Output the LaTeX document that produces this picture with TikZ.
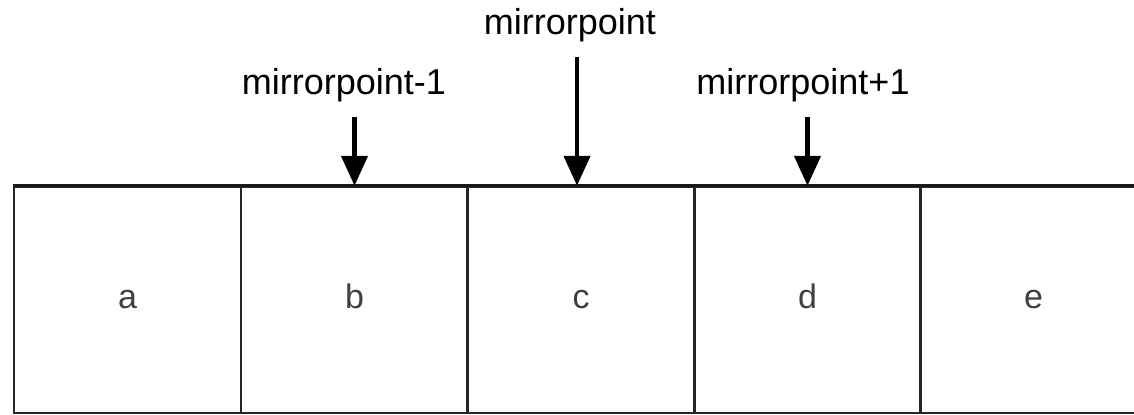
\documentclass[tikz,border=0pt]{standalone}
\usepackage{fontspec}
\setmainfont{Liberation Sans}
\usetikzlibrary{arrows.meta}
\begin{document}
\begin{tikzpicture}[x=0.5pt,y=-0.5pt,
  cell/.style={draw=black!85,line width=1.2pt,minimum width=113.5pt,minimum height=113pt,
    inner sep=0pt,text height=9pt,text depth=0pt,font=\fontsize{17}{20}\selectfont,text=black!75},
  lbl/.style={inner sep=0pt,anchor=base,font=\fontsize{18}{21}\selectfont},
  arr/.style={line width=2.2pt,-{Triangle[width=13pt,length=15pt]},shorten <=7pt}]
\clip (0,0) rectangle (1134,415);
\node[cell] (a) at (127.5,300) {a};
\node[cell] (b) at (354.5,300) {b};
\node[cell] (c) at (581,300) {c};
\node[cell] (d) at (807.5,300) {d};
\node[cell] (e) at (1033.5,300) {e};
\draw[line width=1.7pt,black!90] (a.north west) -- (e.north east);
\node[lbl] (lb) at (344,95) {mirrorpoint-1};
\node[lbl] (lc) at (570,35) {mirrorpoint};
\node[lbl] (ld) at (803,95) {mirrorpoint+1};
\draw[arr] (b.north |- lb.south) -- (b.north);
\draw[arr] ([xshift=-2pt]c.north |- lc.south) -- ([xshift=-2pt]c.north);
\draw[arr] (d.north |- ld.south) -- (d.north);
\end{tikzpicture}
\end{document}
